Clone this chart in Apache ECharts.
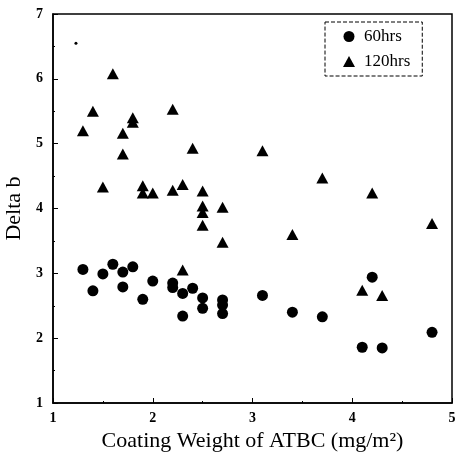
<!DOCTYPE html>
<html><head><meta charset="utf-8">
<script src="https://cdn.jsdelivr.net/npm/echarts@6/dist/echarts.min.js"></script>
<style>html,body{margin:0;padding:0;background:#fff}#c{width:457px;height:454px}</style>
</head><body><div id="c"></div>
<script>
const xTicks = [1, 2, 3, 4, 5];
const yTicks = [1, 2, 3, 4, 5, 6, 7];
const hrs60X = [1.3, 1.4, 1.5, 1.6, 1.7, 1.7, 1.8, 1.9, 2.0, 2.2, 2.2, 2.3, 2.3, 2.4, 2.5, 2.5, 2.7, 2.7, 2.7, 3.1, 3.4, 3.7, 4.1, 4.2, 4.3, 4.8];
const hrs60Y = [3.06, 2.73, 2.99, 3.14, 3.02, 2.79, 3.10, 2.60, 2.88, 2.85, 2.78, 2.69, 2.34, 2.77, 2.62, 2.46, 2.59, 2.51, 2.38, 2.66, 2.40, 2.33, 1.86, 2.94, 1.85, 2.09];
const hrs120X = [1.3, 1.4, 1.5, 1.6, 1.7, 1.7, 1.8, 1.8, 1.9, 1.9, 2.0, 2.2, 2.2, 2.3, 2.3, 2.4, 2.5, 2.5, 2.5, 2.5, 2.7, 2.7, 3.1, 3.4, 3.7, 4.1, 4.2, 4.3, 4.8];
const hrs120Y = [5.20, 5.50, 4.33, 6.08, 5.16, 4.84, 5.40, 5.33, 4.35, 4.24, 4.24, 5.53, 4.28, 4.37, 3.05, 4.93, 4.27, 4.04, 3.94, 3.74, 4.02, 3.48, 4.89, 3.60, 4.47, 2.74, 4.24, 2.66, 3.77];
const speckX = [1.23];
const speckY = [6.55];

const zip = (xs, ys) => xs.map((x, i) => [x, ys[i]]);
const font = '"Liberation Serif", "DejaVu Serif", serif';
const chart = echarts.init(document.getElementById('c'), null, {renderer: 'canvas'});
chart.setOption({
  animation: false,
  backgroundColor: '#fff',
  grid: {left: 53, right: 5, top: 14, bottom: 51, containLabel: false, outerBoundsMode: 'none',
    show: true, borderColor: '#000', borderWidth: 1.5, backgroundColor: 'transparent'},
  legend: {
    orient: 'vertical', left: 325, top: 22, width: 98,
    borderColor: '#000', borderWidth: 1, borderType: 'dashed', padding: [6, 12, 6, 18],
    itemGap: 8, itemWidth: 12, itemHeight: 11,
    textStyle: {fontFamily: font, fontSize: 17, color: '#000', padding: [0, 0, 0, 4]},
    data: [{name: '60hrs', icon: 'circle'}, {name: '120hrs', icon: 'triangle'}]
  },
  xAxis: {
    type: 'value', min: xTicks[0], max: xTicks[xTicks.length - 1], interval: 1,
    name: 'Coating Weight of ATBC (mg/m²)', nameLocation: 'middle', nameGap: 27,
    nameTextStyle: {fontFamily: font, fontSize: 22, color: '#000'},
    axisLine: {lineStyle: {color: '#000', width: 1.5}},
    axisTick: {inside: true, length: 5, lineStyle: {color: '#000'}},
    minorTick: {show: true, splitNumber: 2, length: 2, lineStyle: {color: '#000'}},
    splitLine: {show: false},
    axisLabel: {fontFamily: font, fontSize: 14, fontWeight: 'bold', color: '#000', margin: 8}
  },
  yAxis: {
    type: 'value', min: yTicks[0], max: yTicks[yTicks.length - 1], interval: 1,
    name: 'Delta b', nameLocation: 'middle', nameGap: 24,
    nameTextStyle: {fontFamily: font, fontSize: 22, color: '#000'},
    axisLine: {lineStyle: {color: '#000', width: 1.5}},
    axisTick: {inside: true, length: 5, lineStyle: {color: '#000'}},
    minorTick: {show: true, splitNumber: 2, length: 2, lineStyle: {color: '#000'}},
    splitLine: {show: false},
    axisLabel: {fontFamily: font, fontSize: 14, fontWeight: 'bold', color: '#000', margin: 10}
  },
  series: [
    {name: '60hrs', type: 'scatter', symbol: 'circle', symbolSize: 11, data: zip(hrs60X, hrs60Y),
      itemStyle: {color: '#000', opacity: 1}},
    {name: '120hrs', type: 'scatter', symbol: 'triangle', symbolSize: [12, 11], data: zip(hrs120X, hrs120Y),
      itemStyle: {color: '#000', opacity: 1}},
    {name: 'speck', type: 'scatter', symbol: 'circle', symbolSize: 3, data: zip(speckX, speckY),
      itemStyle: {color: '#000', opacity: 1}}
  ]
});
</script></body></html>
